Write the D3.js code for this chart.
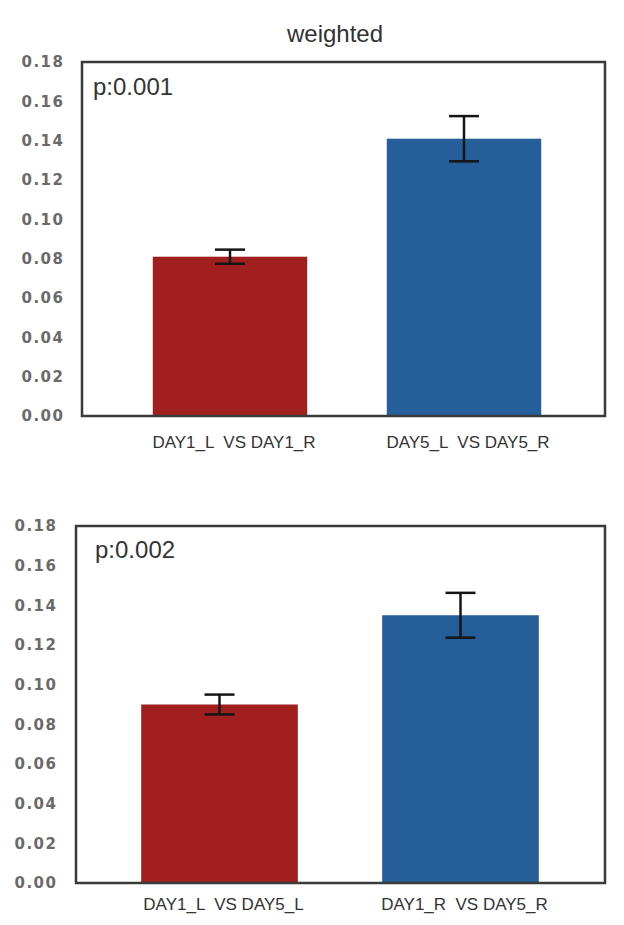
<!DOCTYPE html>
<html>
<head>
<meta charset="utf-8">
<script src="https://cdn.jsdelivr.net/npm/d3@7"></script>
<style>
  html, body { margin: 0; padding: 0; background: #fff; }
  svg { display: block; }
</style>
</head>
<body>
<svg id="chart" width="624" height="925"></svg>
<script>
const titleText = "weighted";
const yTicks = [0, 0.02, 0.04, 0.06, 0.08, 0.10, 0.12, 0.14, 0.16, 0.18];
const barColors = ["#A21F1F", "#255E99"];

const panel1Categories = ["DAY1_L  VS DAY1_R", "DAY5_L  VS DAY5_R"];
const panel1Values = [0.081, 0.141];
const panel1Errors = [0.0036, 0.0115];
const panel1PLabel = "p:0.001";

const panel2Categories = ["DAY1_L  VS DAY5_L", "DAY1_R  VS DAY5_R"];
const panel2Values = [0.090, 0.135];
const panel2Errors = [0.005, 0.0113];
const panel2PLabel = "p:0.002";

const svg = d3.select("#chart");

svg.append("text")
  .attr("x", 335).attr("y", 42)
  .attr("text-anchor", "middle")
  .attr("font-family", "Liberation Sans, Arial, sans-serif")
  .attr("font-size", 24)
  .attr("fill", "#333")
  .text(titleText);

function drawPanel(cfg) {
  const g = svg.append("g");
  const y = d3.scaleLinear().domain([0, 0.18]).range([cfg.bottom, cfg.top]);
  const x = d3.scaleBand().domain(cfg.categories).range(cfg.xRange)
    .paddingInner(cfg.padIn).paddingOuter(cfg.padOut);

  const data = cfg.categories.map((c, i) => ({ c, v: cfg.values[i], e: cfg.errors[i], color: barColors[i] }));

  g.selectAll("rect.bar").data(data).join("rect")
    .attr("class", "bar")
    .attr("x", d => x(d.c))
    .attr("width", x.bandwidth())
    .attr("y", d => y(d.v))
    .attr("height", d => y(0) - y(d.v))
    .attr("fill", d => d.color);

  const capW = 30;
  const eb = g.selectAll("g.err").data(data).join("g").attr("class", "err")
    .attr("stroke", "#151515").attr("stroke-width", 2.5);
  eb.append("line")
    .attr("x1", d => x(d.c) + x.bandwidth() / 2)
    .attr("x2", d => x(d.c) + x.bandwidth() / 2)
    .attr("y1", d => y(d.v + d.e))
    .attr("y2", d => y(d.v - d.e));
  eb.append("line")
    .attr("x1", d => x(d.c) + x.bandwidth() / 2 - capW / 2)
    .attr("x2", d => x(d.c) + x.bandwidth() / 2 + capW / 2)
    .attr("y1", d => y(d.v + d.e))
    .attr("y2", d => y(d.v + d.e));
  eb.append("line")
    .attr("x1", d => x(d.c) + x.bandwidth() / 2 - capW / 2)
    .attr("x2", d => x(d.c) + x.bandwidth() / 2 + capW / 2)
    .attr("y1", d => y(d.v - d.e))
    .attr("y2", d => y(d.v - d.e));

  g.append("rect")
    .attr("x", cfg.left).attr("y", cfg.top)
    .attr("width", cfg.right - cfg.left).attr("height", cfg.bottom - cfg.top)
    .attr("fill", "none").attr("stroke", "#3a3a3a").attr("stroke-width", 2.5);

  const yAxis = d3.axisLeft(y).tickValues(yTicks).tickFormat(d3.format(".2f"))
    .tickSize(0).tickPadding(cfg.left - cfg.labelRight);
  const ya = g.append("g").attr("transform", `translate(${cfg.left},0)`).call(yAxis);
  ya.select(".domain").remove();
  ya.selectAll("text")
    .attr("font-family", "DejaVu Sans, Verdana, sans-serif")
    .attr("font-weight", "bold")
    .attr("font-size", 15)
    .attr("letter-spacing", "1.5px")
    .attr("dx", "1.5px")
    .attr("fill", "#6a6a6a");

  const xAxis = d3.axisBottom(x).tickSize(0).tickPadding(0);
  const xa = g.append("g").attr("transform", `translate(0,${cfg.bottom})`).call(xAxis);
  xa.select(".domain").remove();
  xa.selectAll("text")
    .attr("y", cfg.labelBaseline - cfg.bottom)
    .attr("dy", 0)
    .attr("dx", 4)
    .style("white-space", "pre")
    .attr("font-family", "Liberation Sans, Arial, sans-serif")
    .attr("font-size", 17)
    .attr("fill", "#333");

  g.append("text")
    .attr("x", cfg.pX).attr("y", cfg.pY)
    .attr("font-family", "Liberation Sans, Arial, sans-serif")
    .attr("font-size", 24)
    .attr("fill", "#333")
    .text(cfg.pLabel);
}

drawPanel({
  categories: panel1Categories, values: panel1Values, errors: panel1Errors, pLabel: panel1PLabel,
  left: 82, right: 605, top: 62, bottom: 416,
  xRange: [113, 581], padIn: 0.34, padOut: 0.17,
  labelRight: 63, labelBaseline: 448, pX: 93, pY: 95
});

drawPanel({
  categories: panel2Categories, values: panel2Values, errors: panel2Errors, pLabel: panel2PLabel,
  left: 76, right: 605, top: 526, bottom: 883,
  xRange: [99, 581], padIn: 0.35, padOut: 0.175,
  labelRight: 56, labelBaseline: 910, pX: 95, pY: 558
});
</script>
</body>
</html>
